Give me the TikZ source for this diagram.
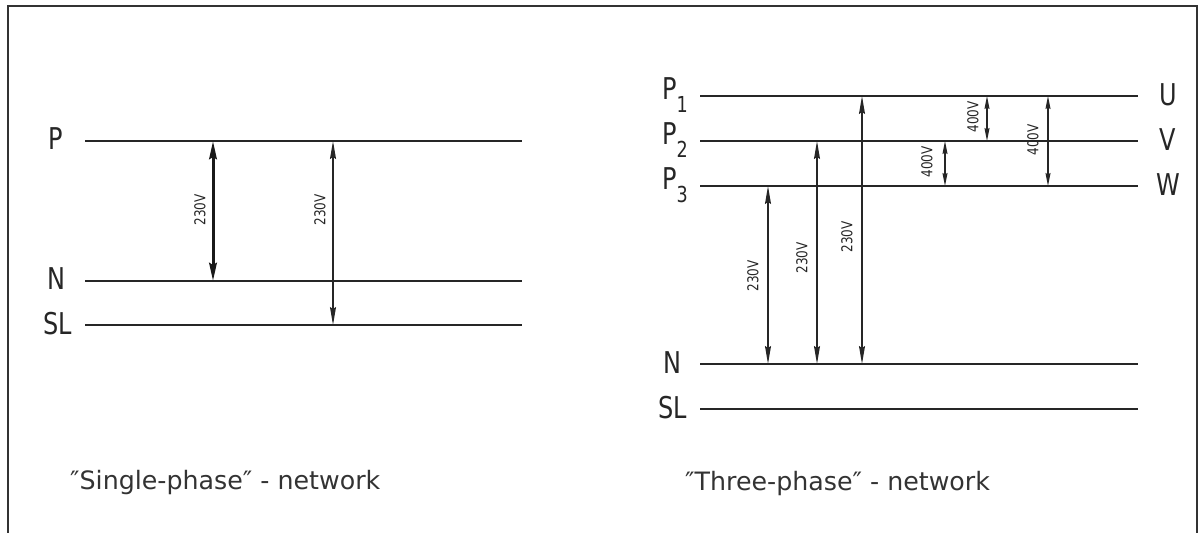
\documentclass[tikz,border=0pt]{standalone}
\usepackage{fontspec}
\setmainfont{DejaVu Sans}
\usetikzlibrary{arrows.meta}
\newcommand{\nar}[1]{\scalebox{0.8}[1]{#1}}
\newcommand{\psub}[1]{\nar{P\raisebox{-0.42em}{\fontsize{22}{22}\selectfont #1}}}
\newcommand{\qq}{″}
\begin{document}
\begin{tikzpicture}[x=1pt,y=-1pt,
  wire/.style={line width=1.6pt,draw=black!85},
  frameline/.style={line width=1.8pt,draw=black!80},
  dim/.style={line width=1.3pt,draw=black!85,{Stealth[length=18pt,width=6pt,inset=2pt]}-{Stealth[length=18pt,width=6pt,inset=2pt]}},
  dimthick/.style={line width=3pt,draw=black!90,{Stealth[length=18pt,width=7.5pt,inset=2pt]}-{Stealth[length=18pt,width=7.5pt,inset=2pt]}},
  dimshort/.style={line width=1.1pt,draw=black!85,{Stealth[length=13pt,width=5pt,inset=1.5pt]}-{Stealth[length=13pt,width=5pt,inset=1.5pt]}},
  linelabel/.style={inner sep=0pt,anchor=center,text=black!85,font=\fontsize{30}{30}\selectfont},
  vlabel/.style={inner sep=0pt,anchor=center,rotate=90,text=black!85,font=\fontsize{15}{15}\selectfont},
  caption/.style={inner sep=0pt,anchor=base west,text=black!80,font=\fontsize{25.3}{28}\selectfont}]
\useasboundingbox (0,0) rectangle (1203,533);
% frame
\coordinate (fbl) at (8,534);
\coordinate (ftl) at (8,6);
\coordinate (ftr) at (1197,6);
\coordinate (fbr) at (1197,534);
\draw[frameline] (fbl) -- (ftl) -- (ftr) -- (fbr);

% ---------- single phase ----------
\coordinate (Ps) at (85,141);  \coordinate (Pe) at (522,141);
\coordinate (Ns) at (85,281);  \coordinate (Ne) at (522,281);
\coordinate (Ss) at (85,325);  \coordinate (Se) at (522,325);
\draw[wire] (Ps) -- (Pe);
\draw[wire] (Ns) -- (Ne);
\draw[wire] (Ss) -- (Se);
\node[linelabel] (lP) at (56,139) {\nar{P}};
\node[linelabel] (lN) at (56,279) {\nar{N}};
\node[linelabel] (lSL) at (58,324) {\nar{SL}};

\coordinate (a1t) at (213,141); \coordinate (a1b) at (213,281);
\coordinate (a2t) at (333,141); \coordinate (a2b) at (333,325);
\draw[dimthick] (a1t) -- (a1b);
\draw[dim] (a2t) -- (a2b);
\node[vlabel] (v1) at (200,210) {\nar{230V}};
\node[vlabel] (v2) at (320,210) {\nar{230V}};

\node[caption] (cap1) at (70,489) {\qq Single-phase\qq{} - network};

% ---------- three phase ----------
\coordinate (P1s) at (700,96);  \coordinate (P1e) at (1138,96);
\coordinate (P2s) at (700,141); \coordinate (P2e) at (1138,141);
\coordinate (P3s) at (700,186); \coordinate (P3e) at (1138,186);
\coordinate (N3s) at (700,364); \coordinate (N3e) at (1138,364);
\coordinate (S3s) at (700,409); \coordinate (S3e) at (1138,409);
\foreach \a/\b in {P1s/P1e,P2s/P2e,P3s/P3e,N3s/N3e,S3s/S3e}
  \draw[wire] (\a) -- (\b);
\node[linelabel,anchor=west] (lP1) at (662,95) {\psub{1}};
\node[linelabel,anchor=west] (lP2) at (662,140) {\psub{2}};
\node[linelabel,anchor=west] (lP3) at (662,185) {\psub{3}};
\node[linelabel] (lN3) at (672,363) {\nar{N}};
\node[linelabel] (lSL3) at (673,408) {\nar{SL}};
\node[linelabel] (lU) at (1168,95) {\nar{U}};
\node[linelabel] (lV) at (1168,140) {\nar{V}};
\node[linelabel] (lW) at (1168,185) {\nar{W}};

\coordinate (b1t) at (768,186); \coordinate (b1b) at (768,364);
\coordinate (b2t) at (817,141); \coordinate (b2b) at (817,364);
\coordinate (b3t) at (862,96);  \coordinate (b3b) at (862,364);
\draw[dim] (b1t) -- (b1b);
\draw[dim] (b2t) -- (b2b);
\draw[dim] (b3t) -- (b3b);
\node[vlabel] (w1) at (753,276) {\nar{230V}};
\node[vlabel] (w2) at (802,258) {\nar{230V}};
\node[vlabel] (w3) at (847,237) {\nar{230V}};

\coordinate (c1t) at (945,141);  \coordinate (c1b) at (945,186);
\coordinate (c2t) at (987,96);   \coordinate (c2b) at (987,141);
\coordinate (c3t) at (1048,96);  \coordinate (c3b) at (1048,186);
\draw[dimshort] (c1t) -- (c1b);
\draw[dimshort] (c2t) -- (c2b);
\draw[dimshort] (c3t) -- (c3b);
\node[vlabel] (x1) at (927,162) {\nar{400V}};
\node[vlabel] (x2) at (973,117) {\nar{400V}};
\node[vlabel] (x3) at (1033,140) {\nar{400V}};

\node[caption] (cap2) at (685,490) {\qq Three-phase\qq{} - network};
\end{tikzpicture}
\end{document}
